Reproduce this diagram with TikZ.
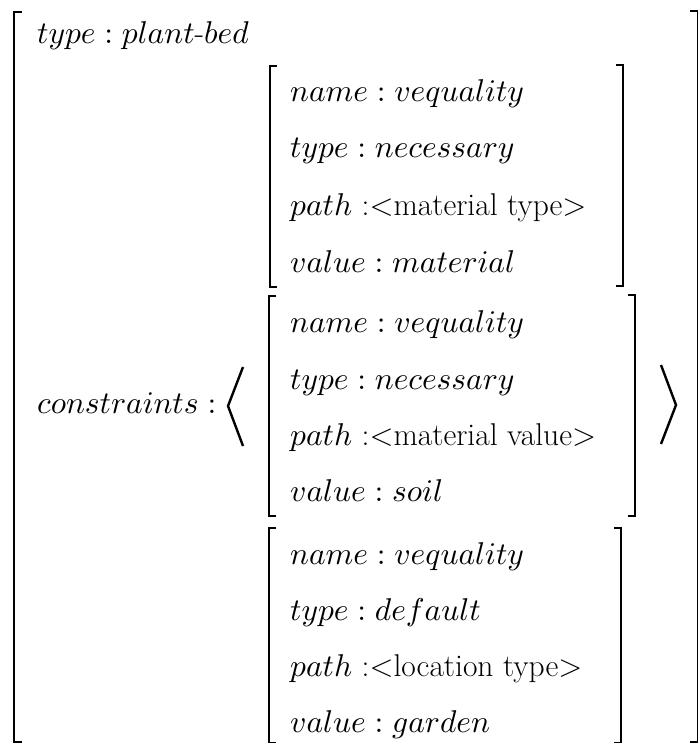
\documentclass[tikz,border=0pt]{standalone}
\DeclareFontShape{OML}{cmm}{m}{it}{<->cmmi10}{}
\DeclareFontShape{OT1}{cmr}{m}{n}{<->cmr10}{}
\DeclareFontShape{OMS}{cmsy}{m}{n}{<->cmsy10}{}
\tikzset{
  lbl/.style={anchor=base west, inner sep=0pt, font=\fontsize{31.5}{38}\selectfont},
  brk/.style={line width=2pt, line cap=butt, line join=miter},
  ang/.style={line width=2.4pt, line join=miter}
}
\begin{document}
\begin{tikzpicture}[x=1pt,y=-1pt]
\useasboundingbox (0,0) rectangle (697,743);
% outer bracket
\draw[brk] (22,12) -- (14,12) -- (14,742) -- (22,742);
\draw[brk] (690,11) -- (697.5,11) -- (697.5,742) -- (690,742);
% top-level attributes
\node[lbl] (t0) at (37,44) {$type : plant\mbox{-}bed$};
\node[lbl] (c0) at (37,413) {$constraints :$};
% angle brackets
\draw[ang] (243,367) -- (228,406) -- (243,446);
\draw[ang] (661,365) -- (676,405) -- (661,444);
% box 1
\draw[brk] (277,66) -- (270,66) -- (270,287) -- (277,287);
\draw[brk] (616,65) -- (623,65) -- (623,286) -- (616,286);
\node[lbl] (a1) at (290,102) {$name : vequality$};
\node[lbl] (a2) at (290,158) {$type : necessary$};
\node[lbl] (a3) at (290,215) {$path$ :<material type>};
\node[lbl] (a4) at (290,272) {$value : material$};
% box 2
\draw[brk] (276,296) -- (269,296) -- (269,516) -- (276,516);
\draw[brk] (628,295) -- (635,295) -- (635,516) -- (628,516);
\node[lbl] (b1) at (290,332) {$name : vequality$};
\node[lbl] (b2) at (290,389) {$type : necessary$};
\node[lbl] (b3) at (290,445) {$path$ :<material value>};
\node[lbl] (b4) at (290,501) {$value : soil$};
% box 3
\draw[brk] (276,528) -- (269,528) -- (269,743) -- (276,743);
\draw[brk] (614,528) -- (621,528) -- (621,743) -- (614,743);
\node[lbl] (d1) at (290,564) {$name : vequality$};
\node[lbl] (d2) at (290,620) {$type : default$};
\node[lbl] (d3) at (290,676) {$path$ :<location type>};
\node[lbl] (d4) at (290,732) {$value : garden$};
\end{tikzpicture}
\end{document}
